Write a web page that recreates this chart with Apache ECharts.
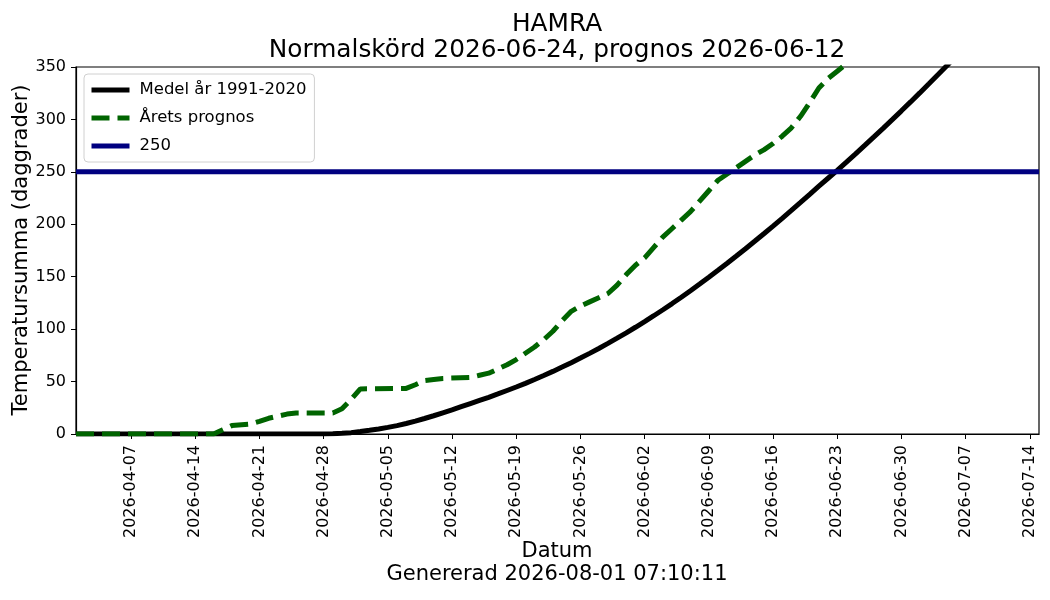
<!DOCTYPE html>
<html>
<head>
<meta charset="utf-8">
<script src="https://cdn.jsdelivr.net/npm/echarts@6/dist/echarts.min.js"></script>
<style>
  html, body { margin: 0; padding: 0; background: #fff; }
  #main { width: 1050px; height: 600px; }
</style>
</head>
<body>
<div id="main"></div>
<script>
// datum (MM-DD, år 2026) och temperatursumma
const meanDates = ['04-01', '04-28', '04-29', '04-30', '05-01', '05-02', '05-03', '05-04', '05-05', '05-06',
  '05-07', '05-08', '05-09', '05-10', '05-11', '05-12', '05-13', '05-14', '05-15', '05-16',
  '05-17', '05-18', '05-19', '05-20', '05-21', '05-22', '05-23', '05-24', '05-25', '05-26',
  '05-27', '05-28', '05-29', '05-30', '05-31', '06-01', '06-02', '06-03', '06-04', '06-05',
  '06-06', '06-07', '06-08', '06-09', '06-10', '06-11', '06-12', '06-13', '06-14', '06-15',
  '06-16', '06-17', '06-18', '06-19', '06-20', '06-21', '06-22', '06-23', '06-24', '06-25',
  '06-26', '06-27', '06-28', '06-29', '06-30', '07-01', '07-02', '07-03', '07-04', '07-05',
  '07-06', '07-07']
const meanValues = [0, 0, 0.3, 0.7, 1.3, 2.3, 3.5, 4.8, 6.3, 8,
  10, 12.3, 14.8, 17.4, 20.2, 23, 26, 29, 32, 35,
  38.2, 41.5, 44.8, 48.3, 52, 55.8, 59.7, 63.8, 68, 72.4,
  76.9, 81.6, 86.4, 91.4, 96.5, 101.8, 107.2, 112.8, 118.5, 124.4,
  130.4, 136.6, 143, 149.5, 156.1, 162.8, 169.7, 176.7, 183.8, 191,
  198.3, 205.7, 213.2, 220.8, 228.5, 236.3, 243.9, 251.5, 259.3, 267.2,
  275.2, 283.3, 291.5, 299.8, 308.2, 316.7, 325.3, 334, 342.8, 351.7,
  360.7, 369.8]

const prognosDates = ['04-01', '04-16', '04-17', '04-18', '04-20', '04-21', '04-22', '04-23', '04-24', '04-25',
  '04-29', '04-30', '05-01', '05-02', '05-07', '05-08', '05-09', '05-10', '05-11', '05-14',
  '05-15', '05-16', '05-17', '05-18', '05-19', '05-20', '05-21', '05-22', '05-23', '05-24',
  '05-25', '05-26', '05-27', '05-28', '05-29', '05-30', '05-31', '06-01', '06-02', '06-03',
  '06-04', '06-05', '06-06', '06-07', '06-08', '06-09', '06-10', '06-11', '06-12', '06-13',
  '06-14', '06-15', '06-16', '06-17', '06-18', '06-19', '06-20', '06-21', '06-22', '06-23',
  '06-24']
const prognosValues = [0, 0, 4, 8, 9.5, 12, 15, 17, 19, 20,
  20, 24, 33, 43, 43.5, 47, 51, 52, 53, 54,
  56, 58, 62, 66, 71, 77, 83, 90, 98, 108,
  117, 122, 126, 130, 134, 142, 152, 161, 168, 178,
  188, 196, 204, 212, 222, 232, 242, 248, 254, 260,
  266, 271, 277, 284, 292, 303, 316, 330, 339, 346,
  353]

const limitValue = 250
const tickDates = ['04-07', '04-14', '04-21', '04-28', '05-05', '05-12', '05-19', '05-26',
  '06-02', '06-09', '06-16', '06-23', '06-30', '07-07', '07-14']
const year = 2026
const startDate = '04-01'
const endDate = '07-15'

// dagnummer räknat från startDate
const DAY = 86400000
function dayOf(md) {
  const p = md.split('-').map(Number)
  const s = startDate.split('-').map(Number)
  return Math.round((Date.UTC(year, p[0] - 1, p[1]) - Date.UTC(year, s[0] - 1, s[1])) / DAY)
}
function labelOf(day) {
  const s = startDate.split('-').map(Number)
  const d = new Date(Date.UTC(year, s[0] - 1, s[1]) + day * DAY)
  const pad = n => (n < 10 ? '0' : '') + n
  return d.getUTCFullYear() + '-' + pad(d.getUTCMonth() + 1) + '-' + pad(d.getUTCDate())
}

const font = 'DejaVu Sans'
const tickDays = tickDates.map(dayOf)

var myChart = echarts.init(document.getElementById('main'))
myChart.setOption({
  backgroundColor: '#fff',
  animation: false,
  textStyle: { fontFamily: font, color: '#000' },
  grid: {
    left: 76, right: 11, top: 67, bottom: 166,
    show: true, borderColor: '#000', borderWidth: 1.2, backgroundColor: 'transparent'
  },
  legend: {
    orient: 'vertical',
    left: 84, top: 74,
    backgroundColor: '#fff',
    borderColor: '#d0d0d0', borderWidth: 1, borderRadius: 4,
    padding: [6, 8, 6, 5],
    itemWidth: 38, itemHeight: 14, itemGap: 8,
    itemStyle: { opacity: 0 },
    lineStyle: { width: 5 },
    textStyle: { fontFamily: font, fontSize: 16.5, color: '#000', lineHeight: 20, padding: [0, 0, 0, 5] },
    data: ['Medel år 1991-2020', 'Årets prognos', '250']
  },
  xAxis: {
    type: 'value',
    min: dayOf(startDate),
    max: dayOf(endDate),
    axisLine: { show: true, onZero: false, lineStyle: { color: '#000', width: 1.2 } },
    axisTick: { show: true, customValues: tickDays, length: 5, lineStyle: { color: '#000' } },
    axisLabel: {
      customValues: tickDays,
      rotate: 90, fontSize: 16, color: '#000', fontFamily: font, margin: 11,
      formatter: v => labelOf(v)
    },
    splitLine: { show: false }
  },
  yAxis: {
    type: 'value',
    min: 0, max: 350, interval: 50,
    axisLine: { show: true, lineStyle: { color: '#000', width: 1.2 } },
    axisTick: { show: true, length: 5, lineStyle: { color: '#000' } },
    axisLabel: { fontSize: 16, color: '#000', fontFamily: font, margin: 10 },
    splitLine: { show: false }
  },
  graphic: [
    { type: 'text', x: 557, y: 25, style: { text: 'HAMRA', font: '24.8px "DejaVu Sans"', fill: '#000', align: 'center', verticalAlign: 'middle' } },
    { type: 'text', x: 557, y: 51, style: { text: 'Normalskörd 2026-06-24, prognos 2026-06-12', font: '24.8px "DejaVu Sans"', fill: '#000', align: 'center', verticalAlign: 'middle' } },
    { type: 'text', x: 557, y: 552, style: { text: 'Datum', font: '21px "DejaVu Sans"', fill: '#000', align: 'center', verticalAlign: 'middle' } },
    { type: 'text', x: 557, y: 575, style: { text: 'Genererad 2026-08-01 07:10:11', font: '21px "DejaVu Sans"', fill: '#000', align: 'center', verticalAlign: 'middle' } },
    { type: 'text', x: 22, y: 250, rotation: Math.PI / 2, style: { text: 'Temperatursumma (daggrader)', font: '21px "DejaVu Sans"', fill: '#000', align: 'center', verticalAlign: 'middle' } }
  ],
  series: [
    {
      name: 'Medel år 1991-2020',
      type: 'line',
      symbol: 'none',
      clip: true,
      color: '#000',
      lineStyle: { color: '#000', width: 5 },
      data: meanDates.map((d, i) => [dayOf(d), meanValues[i]])
    },
    {
      name: 'Årets prognos',
      type: 'line',
      symbol: 'none',
      clip: true,
      color: '#006400',
      lineStyle: { color: '#006400', width: 5, type: [18, 8] },
      data: prognosDates.map((d, i) => [dayOf(d), prognosValues[i]])
    },
    {
      name: '250',
      type: 'line',
      symbol: 'none',
      clip: true,
      color: '#000080',
      lineStyle: { color: '#000080', width: 5 },
      data: [[dayOf(startDate), limitValue], [dayOf(endDate), limitValue]]
    }
  ]
})
</script>
</body>
</html>
